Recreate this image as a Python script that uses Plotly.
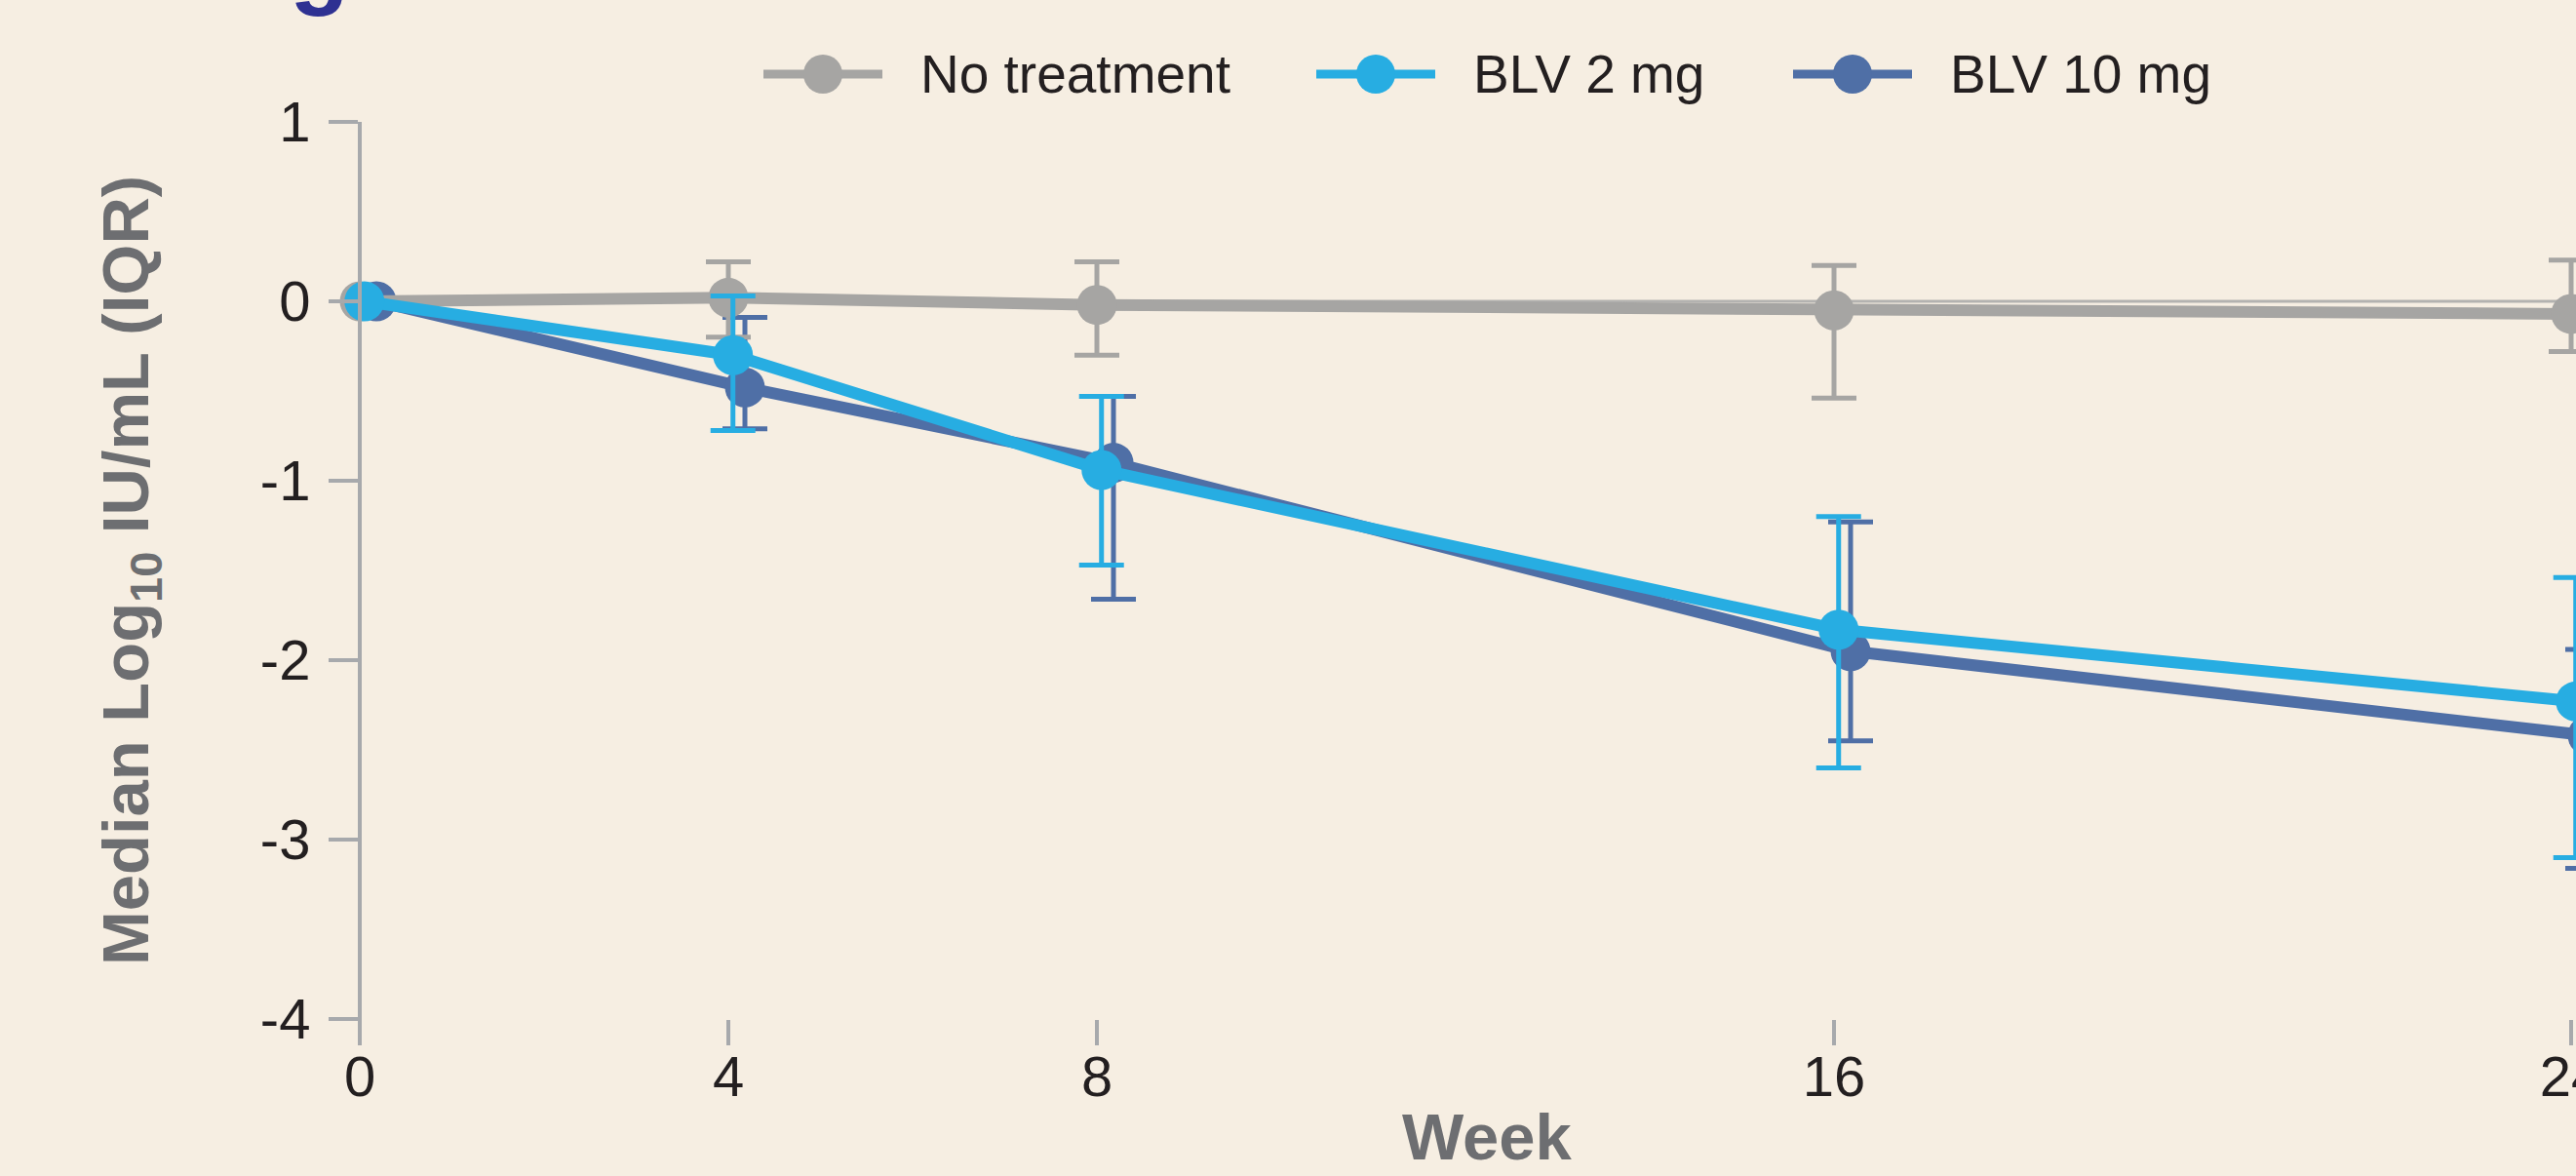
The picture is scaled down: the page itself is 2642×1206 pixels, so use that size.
import plotly.graph_objects as go

# ---------------- data ----------------
weeks = [0, 4, 8, 16, 24]
week_tick_labels = ["0", "4", "8", "16", "24"]
y_tick_values = [1, 0, -1, -2, -3, -4]
y_tick_labels = ["1", "0", "-1", "-2", "-3", "-4"]

series_names = ["No treatment", "BLV 2 mg", "BLV 10 mg"]

no_tx_median = [0.00, 0.02, -0.02, -0.05, -0.07]
no_tx_q3 = [None, 0.22, 0.22, 0.20, 0.23]
no_tx_q1 = [None, -0.20, -0.30, -0.54, -0.28]

blv2_median = [0.00, -0.30, -0.94, -1.83, -2.23]
blv2_q3 = [None, 0.03, -0.53, -1.20, -1.54]
blv2_q1 = [None, -0.72, -1.47, -2.60, -3.10]

blv10_median = [0.00, -0.48, -0.90, -1.95, -2.42]
blv10_q3 = [None, -0.09, -0.53, -1.23, -1.94]
blv10_q1 = [None, -0.71, -1.66, -2.45, -3.16]

# ---------------- styling ----------------
BG = "#f6eee2"
AXIS = "#a7a9ac"
TICKTXT = "#231f20"
TITLETXT = "#6d6e71"
FONT = "Liberation Sans, Arial, sans-serif"
colors = {"No treatment": "#a6a5a3", "BLV 2 mg": "#27ade2", "BLV 10 mg": "#4f6fa6"}
dodge = {"No treatment": 0.0, "BLV 2 mg": 0.05, "BLV 10 mg": 0.18}

series = {
    "No treatment": (no_tx_median, no_tx_q1, no_tx_q3),
    "BLV 2 mg": (blv2_median, blv2_q1, blv2_q3),
    "BLV 10 mg": (blv10_median, blv10_q1, blv10_q3),
}
draw_order = ["BLV 10 mg", "No treatment", "BLV 2 mg"]

W, H = 2642, 1206
# plot area (pixels); the y axis sits at AX0, week 24 at AX24
PL, PR, PT, PB = 330, 2642, 125, 1045
AX0, AX24 = 369, 2637
PX_PER_WEEK = (AX24 - AX0) / 24.0
x_lo = -(AX0 - PL) / PX_PER_WEEK
x_hi = 24 + (PR - AX24) / PX_PER_WEEK


def px_x(px):
    return (px - PL) / (PR - PL)


def px_y(py):
    return (PB - py) / (PB - PT)


fig = go.Figure()
for name in draw_order:
    med, q1, q3 = series[name]
    c = colors[name]
    xs = [w + dodge[name] for w in weeks]
    ex, ey, eup, edn = [], [], [], []
    for x, m, lo, hi in zip(xs, med, q1, q3):
        if lo is None or hi is None:
            continue
        ex.append(x)
        ey.append(m)
        eup.append(hi - m)
        edn.append(m - lo)
    fig.add_trace(go.Scatter(
        x=ex, y=ey, mode="markers",
        marker=dict(size=1, color="rgba(0,0,0,0)"),
        error_y=dict(type="data", symmetric=False, array=eup, arrayminus=edn,
                     color=c, thickness=5, width=23),
        showlegend=False, hoverinfo="skip",
    ))
    fig.add_trace(go.Scatter(
        x=xs, y=med, mode="lines+markers", name=name,
        line=dict(color=c, width=12),
        marker=dict(size=41, color=c),
        showlegend=False,
    ))

shapes = []
annotations = []

# zero reference line (from the y axis to the right edge)
shapes.append(dict(type="line", xref="x", yref="y", x0=0, x1=x_hi, y0=0, y1=0,
                   layer="below", line=dict(color="#b3b2b0", width=3)))
# y-axis line extension below the lowest tick
shapes.append(dict(type="line", xref="paper", yref="paper", x0=px_x(AX0), x1=px_x(AX0),
                   y0=0, y1=px_y(1071), line=dict(color=AXIS, width=4)))

# custom legend along the top
legend_centers = [844, 1411, 1900]
LEG_Y = 76
for name, cx in zip(series_names, legend_centers):
    c = colors[name]
    shapes.append(dict(type="line", xref="paper", yref="paper",
                       x0=px_x(cx - 61), x1=px_x(cx + 61),
                       y0=px_y(LEG_Y), y1=px_y(LEG_Y),
                       line=dict(color=c, width=9)))
    shapes.append(dict(type="circle", xref="paper", yref="paper",
                       x0=px_x(cx - 20), x1=px_x(cx + 20),
                       y0=px_y(LEG_Y + 20), y1=px_y(LEG_Y - 20),
                       fillcolor=c, line=dict(color=c, width=0)))
    annotations.append(dict(text=name, xref="paper", yref="paper",
                            x=px_x(cx + 98), y=px_y(LEG_Y),
                            xanchor="left", yanchor="middle", showarrow=False,
                            font=dict(family=FONT, size=55, color=TICKTXT)))

# x-axis title
annotations.append(dict(text="Week", xref="paper", yref="paper",
                        x=px_x(1525), y=px_y(1165), xanchor="center", yanchor="middle",
                        showarrow=False,
                        font=dict(family=FONT, size=67, color=TITLETXT, weight="bold")))

# cut-off heading letter at the very top
annotations.append(dict(text="<b>g</b>", xref="paper", yref="paper",
                        x=px_x(327), y=px_y(19), xanchor="center", yanchor="bottom",
                        showarrow=False, font=dict(family=FONT, size=100, color="#2e3192")))

fig.update_layout(
    width=W, height=H,
    margin=dict(l=PL, r=W - PR, t=PT, b=H - PB, pad=0, autoexpand=False),
    paper_bgcolor=BG, plot_bgcolor=BG,
    showlegend=False,
    shapes=shapes, annotations=annotations,
    xaxis=dict(
        range=[x_lo, x_hi], tickmode="array", tickvals=weeks, ticktext=week_tick_labels,
        ticks="outside", ticklen=26, tickwidth=4, tickcolor=AXIS,
        showline=False, showgrid=False, zeroline=False, automargin=False,
        ticklabelstandoff=-18, ticklabeloverflow="allow",
        tickfont=dict(family=FONT, size=58, color=TICKTXT),
    ),
    yaxis=dict(
        range=[-4, 1], tickmode="array", tickvals=y_tick_values, ticktext=y_tick_labels,
        anchor="free", position=px_x(AX0),
        ticks="outside", ticklen=30, tickwidth=4, tickcolor=AXIS,
        showline=True, linecolor=AXIS, linewidth=4,
        showgrid=False, zeroline=False, automargin=False,
        ticklabelstandoff=7,
        tickfont=dict(family=FONT, size=58, color=TICKTXT),
        title=dict(text="Median Log<sub>10</sub> IU/mL (IQR)", standoff=91,
                   font=dict(family=FONT, size=67, color=TITLETXT, weight="bold")),
    ),
)

page_css = (
    "document.body.style.margin='0';"
    "document.body.style.overflow='hidden';"
    "document.body.style.background='" + BG + "';"
)
fig.write_html("out.html", post_script=page_css, config={"displayModeBar": False})
